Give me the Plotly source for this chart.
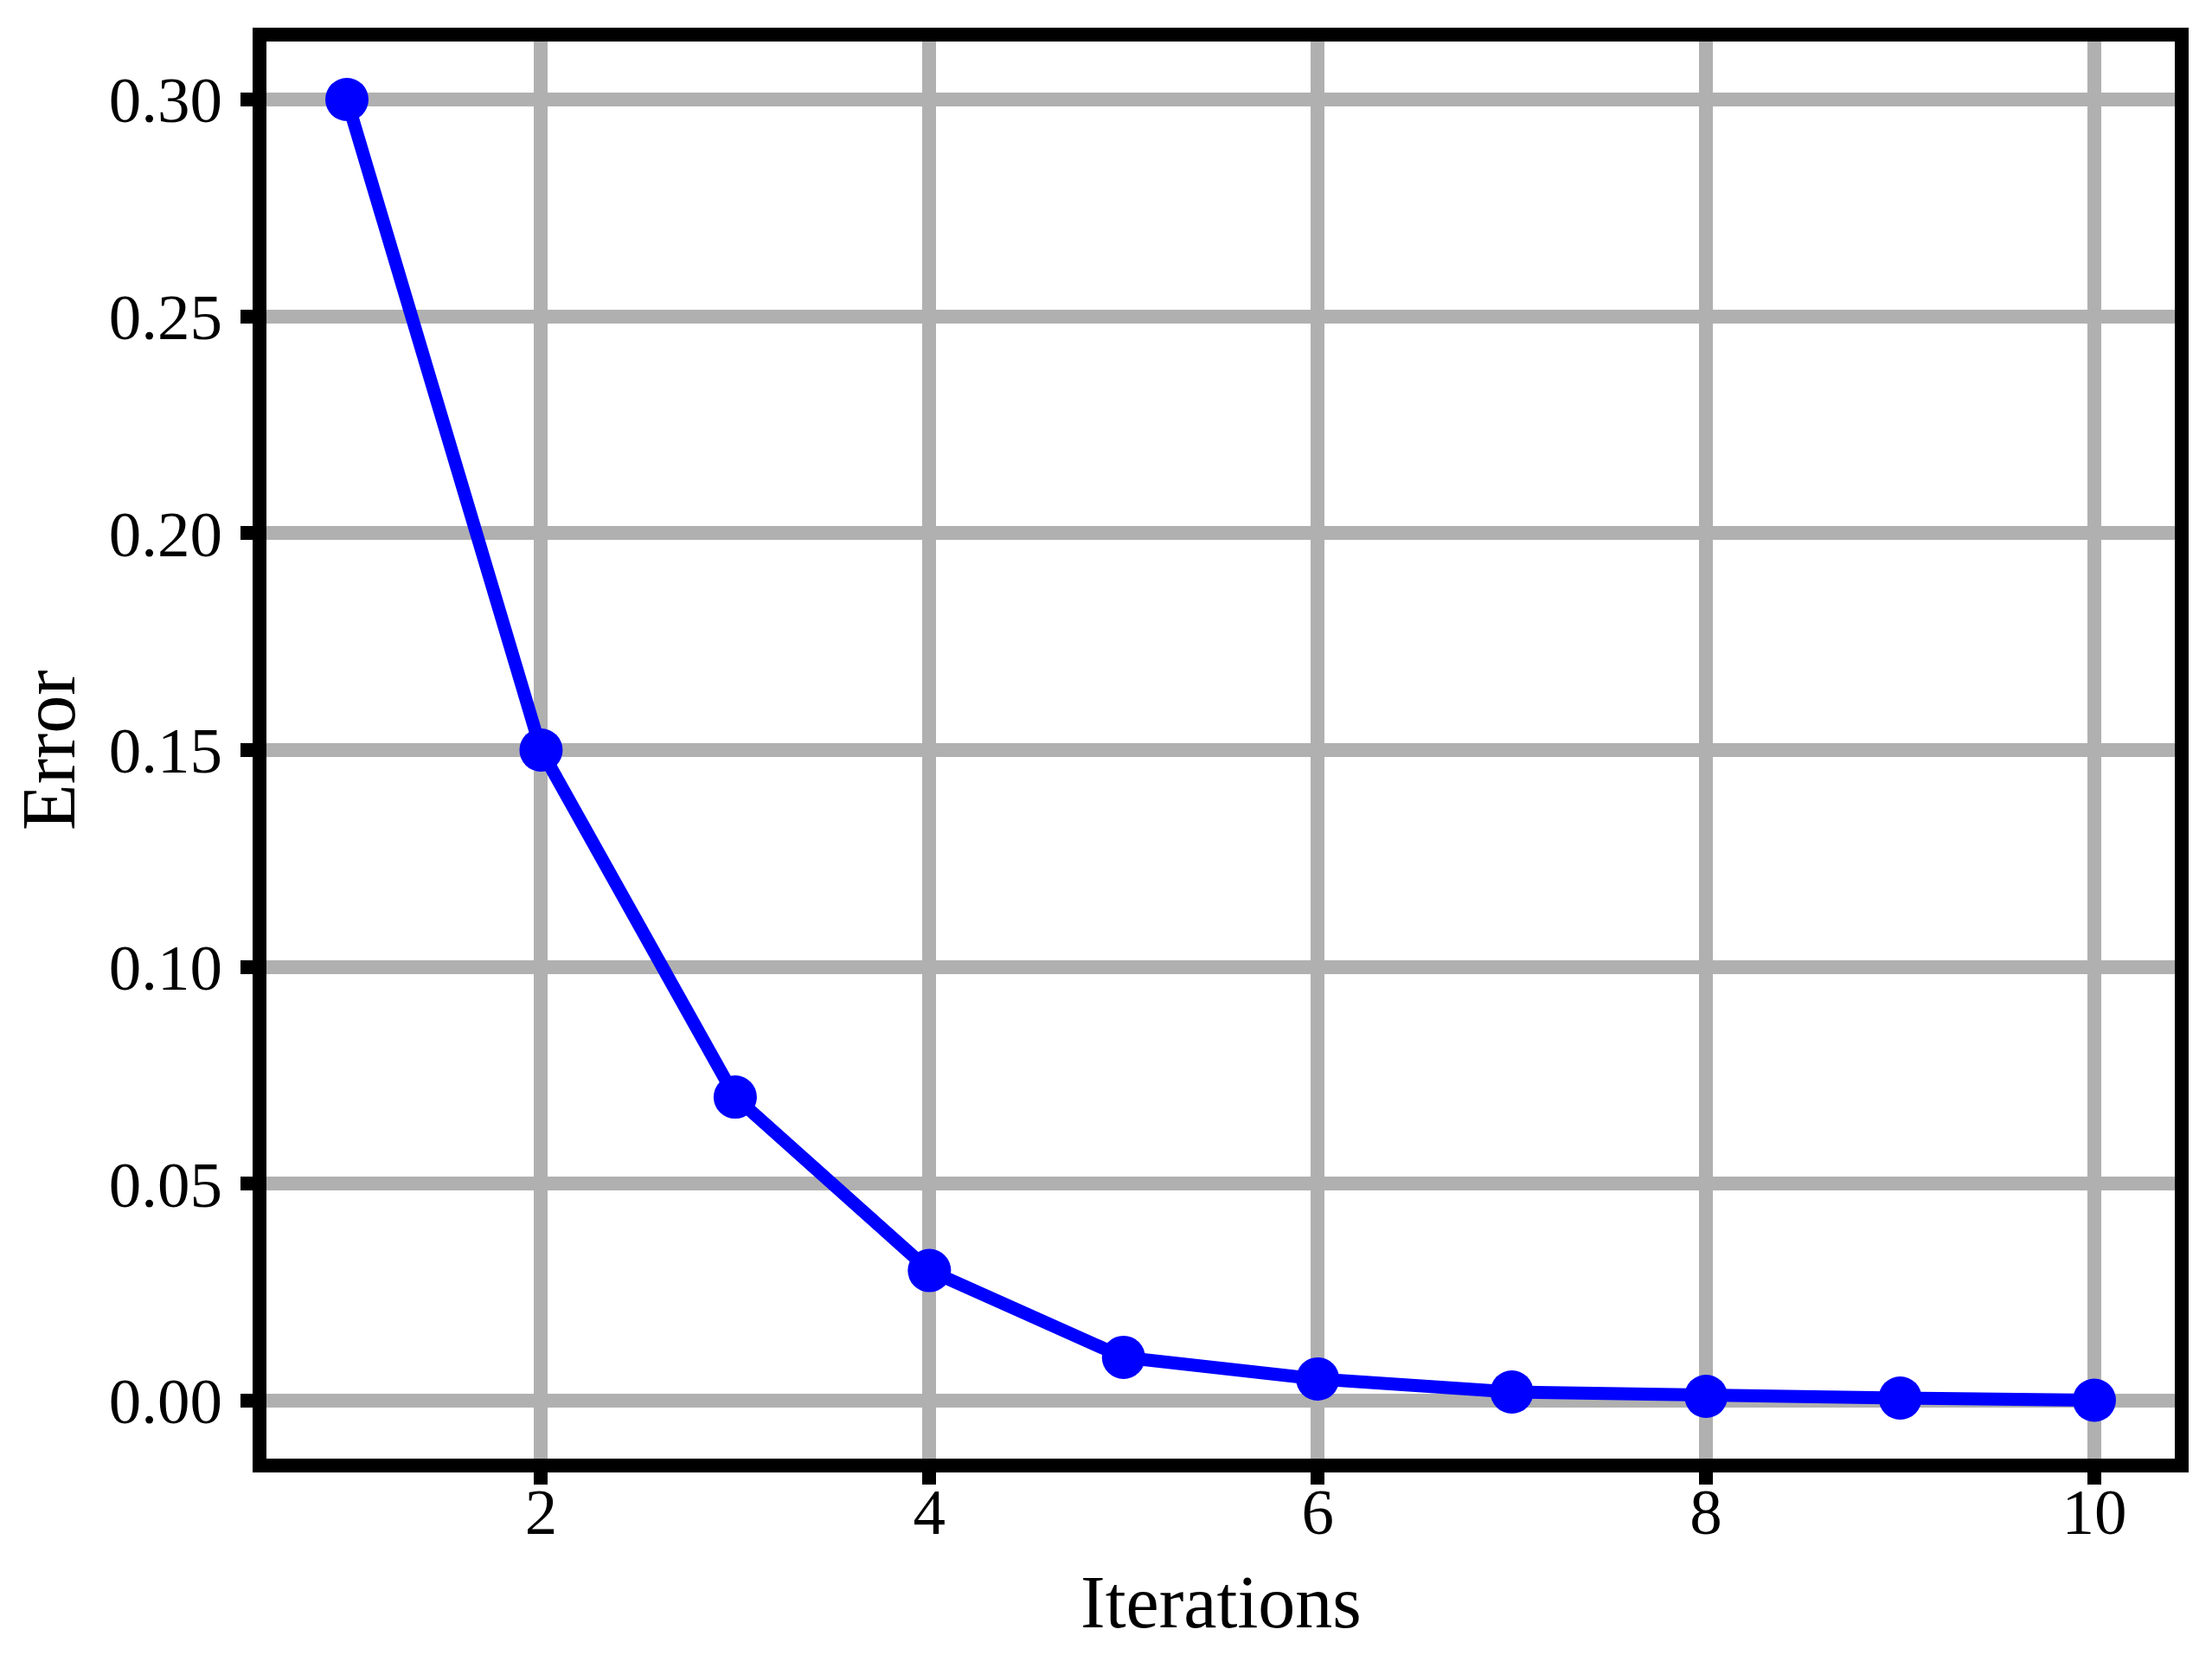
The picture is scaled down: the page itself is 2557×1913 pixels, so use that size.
import plotly.graph_objects as go

# data
iterations = [1, 2, 3, 4, 5, 6, 7, 8, 9, 10]
error = [0.30, 0.15, 0.07, 0.03, 0.01, 0.005, 0.002, 0.001, 0.0006, 0.0001]
x_ticks = [2, 4, 6, 8, 10]
y_ticks = [0.00, 0.05, 0.10, 0.15, 0.20, 0.25, 0.30]

# the page body adds an 8px margin, so the figure is 16px smaller than the window
W, H = 2541, 1897
FONT = "Liberation Serif, Times New Roman, serif"

fig = go.Figure()

fig.add_trace(go.Scatter(
    x=iterations,
    y=error,
    mode='lines+markers',
    line=dict(color='#0000ff', width=15),
    marker=dict(color='#0000ff', size=50),
    showlegend=False
))

axis_common = dict(
    showline=True,
    linecolor='black',
    linewidth=16,
    mirror=True,
    showgrid=True,
    gridcolor='#b0b0b0',
    gridwidth=16,
    zeroline=False,
    ticks='outside',
    ticklen=14,
    tickwidth=16,
    tickcolor='black',
    tickfont=dict(family=FONT, size=75, color='black'),
)

fig.update_layout(
    width=W,
    height=H,
    paper_bgcolor='white',
    plot_bgcolor='white',
    margin=dict(l=300, r=35, t=40, b=219, autoexpand=False),
    font=dict(family=FONT, color='black'),
    xaxis=dict(
        axis_common,
        range=[0.5856, 10.4144],
        tickvals=x_ticks,
        ticktext=[str(v) for v in x_ticks],
        ticklabelstandoff=-33,
    ),
    yaxis=dict(
        axis_common,
        range=[-0.01336, 0.31336],
        tickvals=y_ticks,
        ticktext=[f"{v:.2f}" for v in y_ticks],
        ticklabelstandoff=6,
    ),
)

# axis titles as annotations for exact placement
fig.add_annotation(
    text='Iterations', xref='paper', yref='paper', x=0.5, y=0,
    xanchor='center', yanchor='middle', yshift=-166, showarrow=False,
    font=dict(family=FONT, size=86, color='black'),
)
fig.add_annotation(
    text='Error', xref='paper', yref='paper', x=0, y=0.5,
    xanchor='center', yanchor='middle', xshift=-252, textangle=-90, showarrow=False,
    font=dict(family=FONT, size=88, color='black'),
)

fig.write_html("out.html")
